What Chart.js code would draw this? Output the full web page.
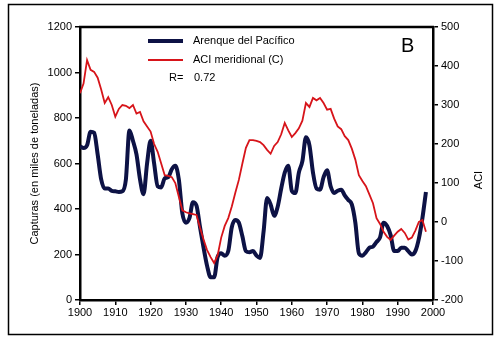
<!DOCTYPE html>
<html>
<head>
<meta charset="utf-8">
<script src="https://cdn.jsdelivr.net/npm/chart.js@4.4.0/dist/chart.umd.min.js"></script>
<style>
  html, body { margin: 0; padding: 0; background: #fff; }
  #wrap { position: relative; width: 500px; height: 342px; }
</style>
</head>
<body>
<div id="wrap"><canvas id="chart" width="500" height="342"></canvas></div>
<script>
// Capturas del arenque del Pacífico vs ACI meridional, 1900-1998
const firstYear = 1900;
const lastYear = 1998;

const catches = [
  675, 668, 680, 740, 735, 640, 530, 490, 490, 480,
  478, 475, 478, 530, 745, 700, 640, 530, 465, 600,
  700, 600, 500, 495, 535, 540, 575, 590, 530, 380,
  340, 360, 430, 415, 320, 230, 150, 100, 100, 190,
  205, 195, 215, 320, 352, 340, 280, 215, 210, 215,
  195, 185, 300, 448, 420, 370, 410, 490, 560, 590,
  480, 470, 560, 610, 715, 680, 560, 490, 485, 540,
  570, 500, 470, 480, 485, 460, 440, 420, 340, 205,
  195, 210, 230, 235, 255, 275, 340, 325, 285, 215,
  215, 230, 230, 215, 200, 215, 270, 360, 475
];

const aci = [
  330, 355, 415, 390, 385, 370, 340, 305, 320, 300,
  270, 290, 300, 298, 292, 300, 278, 282, 258, 245,
  232, 200, 180, 150, 120, 118, 115, 100, 65, 30,
  25, 22, 20, 18, -15, -45, -72, -90, -105, -85,
  -40, -10, 10, 40, 75, 108, 150, 190, 210, 210,
  208, 205, 197, 185, 175, 195, 205, 225, 254, 235,
  218, 228, 240, 260, 305, 295, 318, 312, 318, 305,
  288, 290, 265, 245, 238, 220, 210, 188, 160, 120,
  105, 92, 70, 48, 10, -5, -25, -38, -46, -35,
  -25, -18, -28, -45, -40, -22, 0, 5, -25
];

const seriesNames = ['Arenque del Pacífico', 'ACI meridional (C)'];
const leftTitle = 'Capturas (en miles de toneladas)';
const rightTitle = 'ACI';
const rText = 'R=';
const rValue = '0.72';
const panelLetter = 'B';

const years = [];
for (let y = firstYear; y <= lastYear; y++) years.push(y);

const FONT = 'Arial, "Liberation Sans", sans-serif';
const BLUE = '#0d1245';
const RED = '#d7141a';

const plainTick = v => String(v);

const decorations = {
  id: 'decorations',
  afterDraw(chart) {
    const ctx = chart.ctx;
    const a = chart.chartArea;
    ctx.save();
    // outer frame
    ctx.strokeStyle = '#000';
    ctx.lineWidth = 1.5;
    ctx.strokeRect(8.5, 4.5, 484, 330);
    // top border of plot
    ctx.lineWidth = 2.5;
    ctx.beginPath();
    ctx.moveTo(a.left - 1, a.top);
    ctx.lineTo(a.right + 1, a.top);
    ctx.stroke();

    // legend
    ctx.lineWidth = 4;
    ctx.strokeStyle = BLUE;
    ctx.beginPath();
    ctx.moveTo(148, 41);
    ctx.lineTo(183, 41);
    ctx.stroke();
    ctx.lineWidth = 1.8;
    ctx.strokeStyle = RED;
    ctx.beginPath();
    ctx.moveTo(148, 60);
    ctx.lineTo(183, 60);
    ctx.stroke();

    ctx.fillStyle = '#000';
    ctx.font = '11px ' + FONT;
    ctx.textBaseline = 'middle';
    ctx.textAlign = 'left';
    ctx.fillText(seriesNames[0], 193, 41);
    ctx.fillText(seriesNames[1], 193, 60);
    ctx.fillText(rText, 169, 78);
    ctx.fillText(rValue, 194, 78);

    ctx.font = '20px ' + FONT;
    ctx.fillText(panelLetter, 401, 46);

    // axis titles
    ctx.font = '11px ' + FONT;
    ctx.textAlign = 'center';
    ctx.save();
    ctx.translate(35, (a.top + a.bottom) / 2);
    ctx.rotate(-Math.PI / 2);
    ctx.fillText(leftTitle, 0, 0);
    ctx.restore();
    ctx.save();
    ctx.translate(479, 180);
    ctx.rotate(-Math.PI / 2);
    ctx.fillText(rightTitle, 0, 0);
    ctx.restore();
    ctx.restore();
  }
};

new Chart(document.getElementById('chart'), {
  type: 'line',
  data: {
    datasets: [
      {
        label: seriesNames[1],
        data: years.map((yr, i) => ({ x: yr, y: aci[i] })),
        yAxisID: 'y1',
        borderColor: RED,
        borderWidth: 1.8,
        pointRadius: 0,
        tension: 0,
        order: 0
      },
      {
        label: seriesNames[0],
        data: years.map((yr, i) => ({ x: yr, y: catches[i] })),
        yAxisID: 'y',
        borderColor: BLUE,
        borderWidth: 4,
        pointRadius: 0,
        cubicInterpolationMode: 'monotone',
        order: 1
      }
    ]
  },
  options: {
    responsive: false,
    animation: false,
    layout: { padding: { top: 27, left: 0, right: 0, bottom: 0 } },
    plugins: { legend: { display: false }, tooltip: { enabled: false } },
    scales: {
      x: {
        type: 'linear',
        min: 1900,
        max: 2000,
        ticks: { stepSize: 10, color: '#000', font: { size: 11, family: FONT }, padding: 1, maxRotation: 0, callback: plainTick },
        grid: { drawOnChartArea: false, tickLength: 5, color: '#000', lineWidth: 1.5 },
        border: { color: '#000', width: 2.5 },
        afterFit(s) { s.height = 42; }
      },
      y: {
        position: 'left',
        min: 0,
        max: 1200,
        ticks: { stepSize: 200, color: '#000', font: { size: 11, family: FONT }, padding: 3, callback: plainTick },
        grid: { drawOnChartArea: false, tickLength: 5, color: '#000', lineWidth: 1.5 },
        border: { color: '#000', width: 2.5 },
        afterFit(s) { s.width = 80; }
      },
      y1: {
        position: 'right',
        min: -200,
        max: 500,
        ticks: { stepSize: 100, color: '#000', font: { size: 11, family: FONT }, padding: 3, callback: plainTick },
        grid: { drawOnChartArea: false, tickLength: 5, color: '#000', lineWidth: 1.5 },
        border: { color: '#000', width: 2.5 },
        afterFit(s) { s.width = 67; }
      }
    }
  },
  plugins: [decorations]
});
</script>
</body>
</html>
